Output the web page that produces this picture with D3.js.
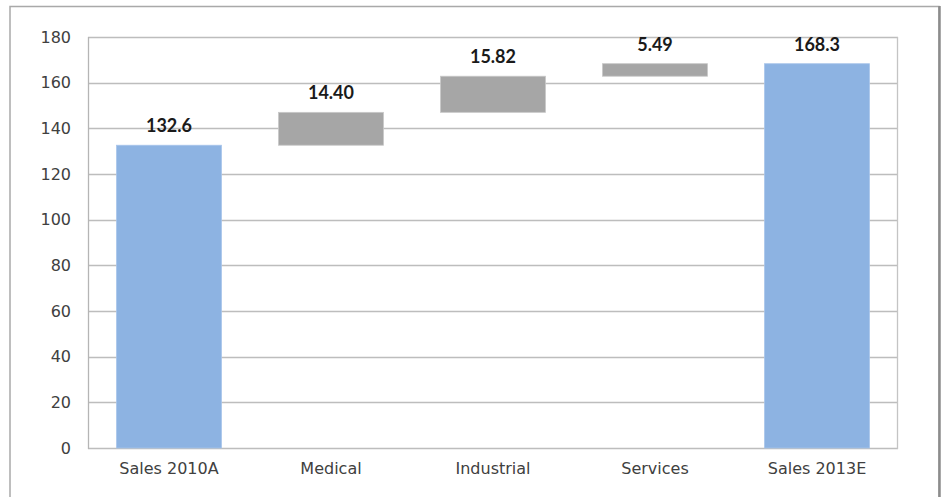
<!DOCTYPE html>
<html>
<head>
<meta charset="utf-8">
<script src="https://cdn.jsdelivr.net/npm/d3@7"></script>
<style>
  html, body { margin: 0; padding: 0; background: #ffffff; }
  svg { display: block; }
</style>
</head>
<body>
<svg id="chart" width="942" height="497"></svg>
<script>
// Sales bridge: 2010 actual to 2013 estimate, by segment
const categories = ["Sales 2010A", "Medical", "Industrial", "Services", "Sales 2013E"];
const kinds = ["total", "step", "step", "step", "total"];
const values = [132.6, 14.40, 15.82, 5.49, 168.3];
const valueLabels = ["132.6", "14.40", "15.82", "5.49", "168.3"];
const yTicks = [0, 20, 40, 60, 80, 100, 120, 140, 160, 180];

// Running total gives each floating step its base
let running = 0;
const bars = categories.map((c, i) => {
  let lo, hi;
  if (kinds[i] === "total") { lo = 0; hi = values[i]; running = values[i]; }
  else { lo = running; hi = running + values[i]; running = hi; }
  return { cat: c, kind: kinds[i], lo, hi, label: valueLabels[i] };
});

const svg = d3.select("#chart");
const plot = { left: 88, right: 898, top: 37, bottom: 448 };

const x = d3.scaleBand()
  .domain(categories)
  .range([plot.left, plot.right])
  .paddingInner(0.352)
  .paddingOuter(0.176);

const y = d3.scaleLinear()
  .domain([0, 180])
  .range([plot.bottom, plot.top]);

// Outer chart frame
svg.append("rect")
  .attr("x", 10).attr("y", 6.5)
  .attr("width", 929).attr("height", 520)
  .attr("fill", "none")
  .attr("stroke", "#a9a9a9")
  .attr("stroke-width", 1.5);
svg.append("line")
  .attr("x1", 939.5).attr("x2", 939.5)
  .attr("y1", 6).attr("y2", 497)
  .attr("stroke", "#8c8c8c")
  .attr("stroke-width", 2.5);

// Horizontal gridlines
svg.append("g")
  .selectAll("line")
  .data(yTicks)
  .join("line")
  .attr("x1", plot.left).attr("x2", plot.right)
  .attr("y1", d => Math.round(y(d)) + 0.5)
  .attr("y2", d => Math.round(y(d)) + 0.5)
  .attr("stroke", "#bdbdbd")
  .attr("stroke-width", 1.3);

// Plot area side borders
svg.append("line")
  .attr("x1", plot.left + 0.5).attr("x2", plot.left + 0.5)
  .attr("y1", plot.top).attr("y2", plot.bottom + 1)
  .attr("stroke", "#b5b5b5").attr("stroke-width", 1.3);
svg.append("line")
  .attr("x1", plot.right - 0.5).attr("x2", plot.right - 0.5)
  .attr("y1", plot.top).attr("y2", plot.bottom + 1)
  .attr("stroke", "#c4c4c4").attr("stroke-width", 1.3);

// Y axis labels
const yAxis = d3.axisLeft(y).tickValues(yTicks).tickSize(0).tickPadding(17);
const gy = svg.append("g")
  .attr("transform", `translate(${plot.left},0)`)
  .call(yAxis);
gy.select(".domain").remove();
gy.selectAll("text")
  .attr("font-family", "DejaVu Sans, sans-serif")
  .attr("font-size", 16)
  .attr("fill", "#404040");

// X axis labels
const xAxis = d3.axisBottom(x).tickSize(0).tickPadding(15);
const gx = svg.append("g")
  .attr("transform", `translate(0,${plot.bottom})`)
  .call(xAxis);
gx.select(".domain").remove();
gx.selectAll("text")
  .attr("font-family", "DejaVu Sans, sans-serif")
  .attr("font-size", 16)
  .attr("fill", "#404040");

// Bars: totals in blue, floating segment steps in grey
svg.append("g")
  .selectAll("rect")
  .data(bars)
  .join("rect")
  .attr("x", d => x(d.cat))
  .attr("width", x.bandwidth())
  .attr("y", d => y(d.hi))
  .attr("height", d => y(d.lo) - y(d.hi))
  .attr("fill", d => d.kind === "total" ? "#8db3e2" : "#a6a6a6")
  .attr("stroke", d => d.kind === "total" ? "#a9c5ea" : "#c8c8c8")
  .attr("stroke-width", 0.8);

// Value labels above each bar
svg.append("g")
  .selectAll("text")
  .data(bars)
  .join("text")
  .attr("x", d => x(d.cat) + x.bandwidth() / 2)
  .attr("y", d => y(d.hi) - 13)
  .attr("text-anchor", "middle")
  .attr("font-family", "Lato, sans-serif")
  .attr("font-weight", "bold")
  .attr("font-size", 18)
  .attr("fill", "#1a1a1a")
  .text(d => d.label);
</script>
</body>
</html>
